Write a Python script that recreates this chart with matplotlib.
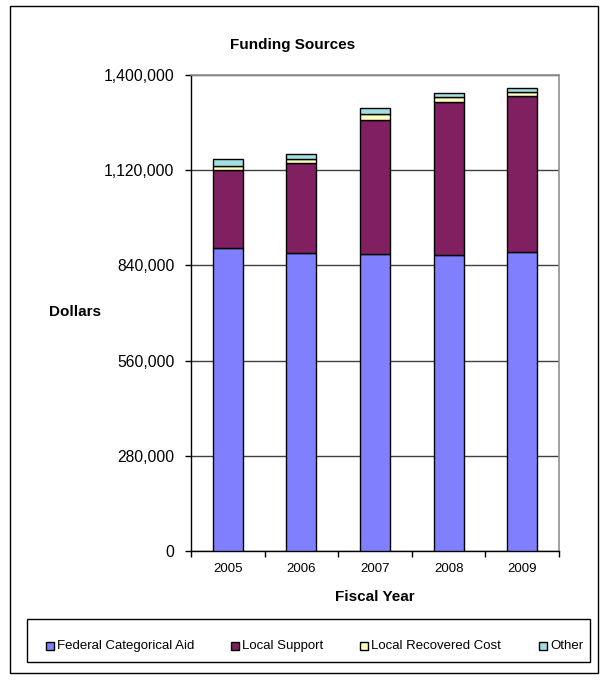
import matplotlib
matplotlib.use("Agg")
import matplotlib.pyplot as plt
from matplotlib.patches import Rectangle
from matplotlib.ticker import FuncFormatter, FixedLocator
import numpy as np

plt.rcParams["font.family"] = ["Liberation Sans", "DejaVu Sans"]

years = ["2005", "2006", "2007", "2008", "2009"]
federal = [890000, 875500, 872500, 870500, 879500]
local_support = [230500, 264500, 395000, 449000, 459500]
recovered = [12000, 12000, 17000, 16500, 10000]
other = [20000, 15000, 17000, 12000, 12000]

series = [
    ("Federal Categorical Aid", federal, "#8080FF"),
    ("Local Support", local_support, "#802060"),
    ("Local Recovered Cost", recovered, "#FFFFC0"),
    ("Other", other, "#A0E0E0"),
]

W, H = 611, 683
fig = plt.figure(figsize=(W / 100, H / 100), dpi=100)


def px(x0, y0, w, h):
    """pixel box (top-left origin) -> figure fraction rectangle args"""
    return (x0 / W, 1 - (y0 + h) / H), w / W, h / H


# outer chart frame
xy, w, h = px(10, 6, 588, 667)
fig.patches.append(Rectangle(xy, w, h, transform=fig.transFigure,
                             fill=False, edgecolor="black", lw=1.0))

ax = fig.add_axes([191 / W, 132 / H, 368 / W, 476 / H])
x = np.arange(len(years))
bottom = np.zeros(len(years))
for name, vals, color in series:
    ax.bar(x, vals, width=0.41, bottom=bottom, color=color,
           edgecolor="black", lw=1.0, zorder=3)
    bottom += np.array(vals)

ax.set_xlim(-0.5, len(years) - 0.5)
ax.set_ylim(0, 1400000)
ax.set_yticks(np.arange(0, 1400001, 280000))
ax.yaxis.set_major_formatter(FuncFormatter(lambda v, p: f"{int(v):,}"))
ax.yaxis.grid(True, color="#404040", lw=1.0, zorder=0)
ax.set_xticks(x)
ax.set_xticklabels(years, fontsize=9.5)
ax.xaxis.set_minor_locator(FixedLocator(np.arange(-0.5, len(years), 1.0)))
ax.tick_params(axis="x", which="major", length=0, pad=9)
ax.tick_params(axis="x", which="minor", length=4, direction="out", width=1)
ax.tick_params(axis="y", labelsize=11.3, length=4, width=1, pad=8)
for side in ("top", "right"):
    ax.spines[side].set_color("#909090")
    ax.spines[side].set_linewidth(1.2)
for side in ("left", "bottom"):
    ax.spines[side].set_color("black")
    ax.spines[side].set_linewidth(1.0)

fig.text(293 / W, 1 - 45 / H, "Funding Sources", ha="center", va="center",
         fontsize=11, fontweight="bold")
fig.text(75 / W, 1 - 312 / H, "Dollars", ha="center", va="center",
         fontsize=11, fontweight="bold")
fig.text(375 / W, 1 - 597 / H, "Fiscal Year", ha="center", va="center",
         fontsize=11, fontweight="bold")

# legend box with hand-placed entries
xy, w, h = px(27, 619, 563, 43)
fig.patches.append(Rectangle(xy, w, h, transform=fig.transFigure,
                             fill=False, edgecolor="black", lw=1.0))
key_x = [46, 231, 360, 539]
for (name, _, color), kx in zip(series, key_x):
    xy, w, h = px(kx, 642, 8, 8)
    fig.patches.append(Rectangle(xy, w, h, transform=fig.transFigure,
                                 facecolor=color, edgecolor="black", lw=1.0))
    fig.text((kx + 11) / W, 1 - 646 / H, name, ha="left", va="center",
             fontsize=9.5)

fig.savefig("out.png", dpi=100)
